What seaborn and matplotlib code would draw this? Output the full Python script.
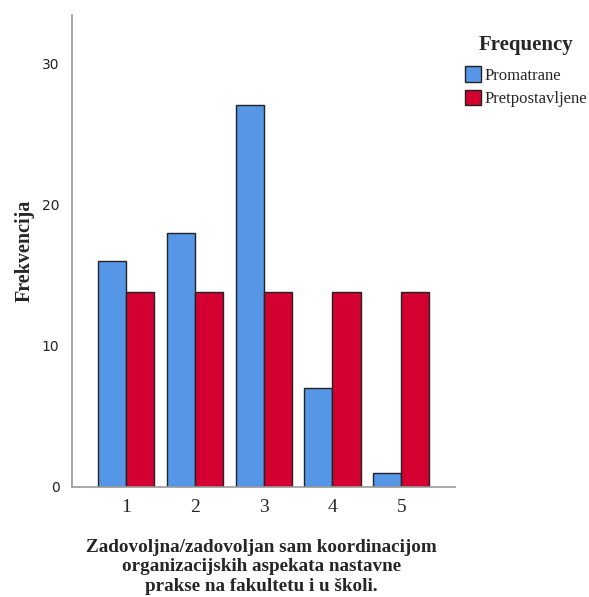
import matplotlib
matplotlib.use("Agg")
import matplotlib.pyplot as plt
import seaborn as sns
import pandas as pd

categories = ["1", "2", "3", "4", "5"]
promatrane = [16, 18, 27, 7, 1]
pretpostavljene = [13.8, 13.8, 13.8, 13.8, 13.8]
series_names = ["Promatrane", "Pretpostavljene"]
colors = ["#5596E6", "#D50032"]

df = pd.DataFrame({
    "cat": categories * 2,
    "val": promatrane + pretpostavljene,
    "series": [series_names[0]] * 5 + [series_names[1]] * 5,
})

sns.set_style("white")
serif = "Liberation Serif"

fig = plt.figure(figsize=(5.89, 5.97), dpi=100)
ax = fig.add_axes([0.1222, 0.1843, 0.650, 0.7906])

sns.barplot(data=df, x="cat", y="val", hue="series", palette=colors,
            width=0.82, edgecolor="#222222", linewidth=1.0, ax=ax,
            saturation=1, legend=True)

ax.set_ylim(0, 33.4)
ax.set_xlim(-0.79, 4.78)
ax.set_yticks([0, 10, 20, 30])
ax.tick_params(axis="both", length=0)
ax.tick_params(axis="y", labelsize=10, colors="#222222", pad=9)
for lbl in ax.get_xticklabels():
    lbl.set_fontfamily(serif)
    lbl.set_fontsize(14)
ax.tick_params(axis="x", pad=9)

for s in ["top", "right"]:
    ax.spines[s].set_visible(False)
for s in ["left", "bottom"]:
    ax.spines[s].set_color("#9a9a9a")
    ax.spines[s].set_linewidth(1.2)

ax.set_ylabel("Frekvencija", fontfamily=serif, fontsize=14.5, fontweight="bold")
ax.yaxis.set_label_coords(-0.098, 0.5)
ax.set_xlabel("Zadovoljna/zadovoljan sam koordinacijom\norganizacijskih aspekata nastavne\nprakse na fakultetu i u školi.",
              fontfamily=serif, fontsize=13.8, fontweight="bold", linespacing=1.2)
ax.xaxis.set_label_coords(0.495, -0.11)

handles, labels = ax.get_legend_handles_labels()
ax.get_legend().remove()
leg = fig.legend(handles, labels, loc="upper left", bbox_to_anchor=(0.779, 0.952),
                 frameon=False, prop={"family": serif, "size": 12},
                 handlelength=0.95, handleheight=1.05, handletextpad=0.2,
                 labelspacing=0.35, borderaxespad=0)
leg.set_title("Frequency", prop={"family": serif, "size": 15, "weight": "bold"})
leg._legend_box.sep = 8

fig.savefig("out.png", dpi=100)
